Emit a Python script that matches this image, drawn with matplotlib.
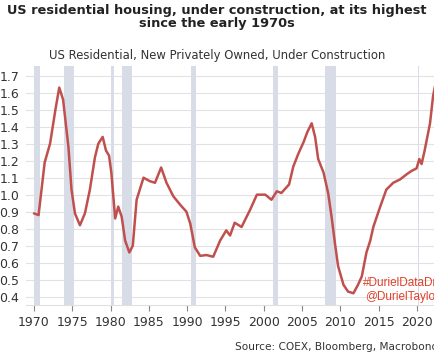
import matplotlib.pyplot as plt

# housing units under construction, millions
years = [1970.0, 1970.6, 1971.4, 1972.1, 1972.8, 1973.3, 1973.8, 1974.5, 1974.9,
         1975.35, 1976.0, 1976.65, 1977.3, 1977.96, 1978.4, 1978.97, 1979.4,
         1979.8, 1980.1, 1980.6, 1981.0, 1981.45, 1981.9, 1982.45, 1982.9,
         1983.4, 1984.3, 1985.1, 1985.8, 1986.6, 1987.3, 1988.2, 1989.1,
         1989.9, 1990.4, 1991.0, 1991.7, 1992.5, 1993.4, 1994.3, 1995.1,
         1995.6, 1996.2, 1997.1, 1998.2, 1999.1, 2000.2, 2001.0, 2001.7,
         2002.3, 2003.3, 2003.85, 2004.5, 2005.2, 2005.7, 2006.25, 2006.7,
         2007.1, 2007.8, 2008.4, 2008.85, 2009.3, 2009.7, 2010.4, 2011.0,
         2011.7, 2012.3, 2012.8, 2013.4, 2013.9, 2014.3, 2015.2, 2016.0,
         2016.9, 2017.8, 2018.65, 2019.3, 2019.95, 2020.3, 2020.6, 2021.0,
         2021.7, 2022.1, 2022.4]
units = [0.89, 0.88, 1.19, 1.30, 1.50, 1.63, 1.56, 1.28, 1.03,
         0.89, 0.82, 0.89, 1.03, 1.22, 1.30, 1.34, 1.26,
         1.23, 1.13, 0.86, 0.93, 0.87, 0.73, 0.66, 0.70,
         0.97, 1.10, 1.08, 1.07, 1.16, 1.07, 0.99, 0.94,
         0.90, 0.83, 0.69, 0.64, 0.645, 0.635, 0.73, 0.79,
         0.76, 0.835, 0.81, 0.91, 1.00, 1.00, 0.97, 1.02,
         1.01, 1.06, 1.165, 1.24, 1.31, 1.37, 1.42, 1.34,
         1.21, 1.13, 1.01, 0.87, 0.71, 0.58, 0.47, 0.43,
         0.42, 0.47, 0.52, 0.66, 0.73, 0.81, 0.93, 1.03,
         1.07, 1.09, 1.12, 1.14, 1.155, 1.21, 1.18, 1.26,
         1.42, 1.58, 1.65]

# recession periods (start, end)
rec_start = [1969.95, 1973.9, 1980.0, 1981.55, 1990.55, 2001.2, 2007.95, 2020.1]
rec_end = [1970.85, 1975.2, 1980.5, 1982.85, 1991.2, 2001.85, 2009.45, 2020.3]

x_ticks = [1970, 1975, 1980, 1985, 1990, 1995, 2000, 2005, 2010, 2015, 2020]
y_ticks = [0.4, 0.5, 0.6, 0.7, 0.8, 0.9, 1.0, 1.1, 1.2, 1.3, 1.4, 1.5, 1.6, 1.7]

fig = plt.figure(figsize=(4.34, 3.62), dpi=100)
ax = fig.add_axes([26 / 434, 1 - 305 / 362, 1 - 26 / 434, (305 - 66) / 362])

for s, e in zip(rec_start, rec_end):
    ax.axvspan(s, e, color="#d8dce6", lw=0, zorder=1)

ax.plot(years, units, color="#c0504d", lw=1.8, zorder=3,
        solid_joinstyle="round", solid_capstyle="round")

ax.set_xlim(1968.96, 2022.22)
ax.set_ylim(0.351, 1.757)
ax.set_xticks(x_ticks)
ax.set_yticks(y_ticks)
ax.set_yticklabels([f"{v:.1f}" for v in y_ticks])
ax.grid(axis="y", color="#e2e2e2", lw=0.8, zorder=0)
ax.set_axisbelow(True)
for side in ["top", "right", "left"]:
    ax.spines[side].set_visible(False)
ax.spines["bottom"].set_color("#e0e0e0")
ax.tick_params(axis="y", length=0, pad=5, labelsize=9, labelcolor="#333333")
ax.tick_params(axis="x", length=4, width=0.8, color="#888888", pad=4,
               labelsize=9, labelcolor="#333333")

fig.text(0.5, 1 - 17 / 362, "US residential housing, under construction, at its highest\nsince the early 1970s",
         ha="center", va="center", fontsize=9.3, fontweight="bold", color="#222222",
         linespacing=1.05)
fig.text(0.5, 1 - 56 / 362, "US Residential, New Privately Owned, Under Construction",
         ha="center", va="center", fontsize=8.4, color="#333333")
fig.text(235 / 434, 1 - 347 / 362, "Source: COEX, Bloomberg, Macrobond",
         ha="left", va="center", fontsize=7.6, color="#333333")
fig.text(363 / 434, 1 - 283 / 362, "#DurielDataDriven", ha="left", va="center",
         fontsize=8.5, color="#e0402a", family="Liberation Sans")
fig.text(365 / 434, 1 - 297 / 362, "@DurielTaylor", ha="left", va="center",
         fontsize=8.5, color="#e0402a", family="Liberation Sans")

fig.savefig("out.png", dpi=100)
